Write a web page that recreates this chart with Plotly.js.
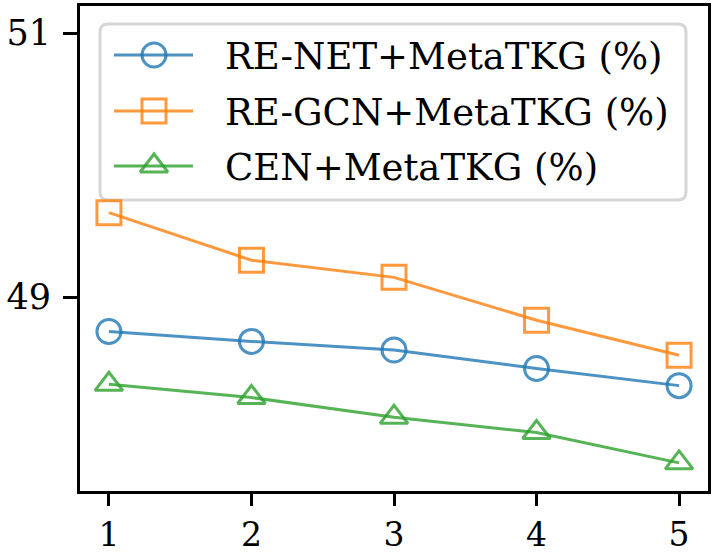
<!DOCTYPE html>
<html><head><meta charset="utf-8">
<script src="https://cdn.plot.ly/plotly-3.0.1.min.js"></script>
<style>html,body{margin:0;padding:0;background:#fff}</style>
</head><body><div id="chart" style="width:714px;height:553px"></div>
<script>
const xs = [1, 2, 3, 4, 5];
const xTickText = ['1', '2', '3', '4', '5'];
const yTickVals = [49, 51];
const yTickText = ['49', '51'];
const reNet = [48.74, 48.665, 48.60, 48.46, 48.33];
const reGcn = [49.64, 49.28, 49.15, 48.825, 48.56];
const cen = [48.34, 48.24, 48.09, 47.975, 47.745];
const names = ['RE-NET+MetaTKG (%)', 'RE-GCN+MetaTKG (%)', 'CEN+MetaTKG (%)'];
const colors = ['rgba(31,119,180,0.8)', 'rgba(255,127,14,0.8)', 'rgba(44,160,44,0.8)'];
const symbols = ['circle-open', 'square-open', 'triangle-up-open'];
const series = [reNet, reGcn, cen];
const msize = [24, 24, 24];
const FONT = 'DejaVu Serif';

const traces = series.map((ys, i) => ({
  x: xs, y: ys, name: names[i], type: 'scatter', mode: 'lines+markers', showlegend: false,
  line: {color: colors[i], width: 3},
  marker: {symbol: symbols[i], size: msize[i], color: colors[i], line: {width: 3, color: colors[i]}}
}));

// Custom legend drawn in pixel space on an overlay axis
const legRows = [55, 111, 166];
const legLineX = [114, 193];
const legMarkX = 154;
const legTextX = 223;
const annotations = [];
series.forEach((ys, i) => {
  traces.push({x: legLineX, y: [legRows[i], legRows[i]], xaxis: 'x2', yaxis: 'y2', mode: 'lines',
    showlegend: false, hoverinfo: 'skip', line: {color: colors[i], width: 3}});
  traces.push({x: [legMarkX], y: [legRows[i]], xaxis: 'x2', yaxis: 'y2', mode: 'markers',
    showlegend: false, hoverinfo: 'skip',
    marker: {symbol: symbols[i], size: msize[i], color: colors[i], line: {width: 3, color: colors[i]}}});
  annotations.push({x: legTextX, y: legRows[i] + 1, xref: 'x2', yref: 'y2', text: names[i],
    showarrow: false, xanchor: 'left', yanchor: 'middle',
    font: {size: 37, family: FONT, color: '#000'}});
});
const bx0 = 100, bx1 = 686, by0 = 24, by1 = 200, r = 8;
const boxPath = `M${bx0+r},${by0} L${bx1-r},${by0} Q${bx1},${by0} ${bx1},${by0+r} L${bx1},${by1-r} Q${bx1},${by1} ${bx1-r},${by1} L${bx0+r},${by1} Q${bx0},${by1} ${bx0},${by1-r} L${bx0},${by0+r} Q${bx0},${by0} ${bx0+r},${by0} Z`;

const layout = {
  width: 714, height: 553,
  margin: {l: 80, r: 6, t: 6, b: 62},
  paper_bgcolor: '#fff', plot_bgcolor: '#fff',
  font: {family: FONT, color: '#000'},
  showlegend: false,
  annotations: annotations,
  shapes: [{type: 'path', path: boxPath, xref: 'x2', yref: 'y2', layer: 'below',
    fillcolor: 'rgba(255,255,255,0.8)', line: {color: '#d6d6d6', width: 3}}],
  xaxis: {range: [0.797, 5.203], tickvals: xs, ticktext: xTickText,
    ticks: 'outside', ticklen: 12, tickwidth: 3, tickcolor: '#000',
    showline: true, linecolor: '#000', linewidth: 3, mirror: true, showgrid: false, zeroline: false,
    tickfont: {size: 33, family: FONT}},
  yaxis: {range: [47.532, 51.205], tickvals: yTickVals, ticktext: yTickText,
    ticks: 'outside', ticklen: 14, tickwidth: 3, tickcolor: '#000',
    showline: true, linecolor: '#000', linewidth: 3, mirror: true, showgrid: false, zeroline: false,
    tickfont: {size: 35, family: FONT}, ticklabelstandoff: 5},
  xaxis2: {overlaying: 'x', range: [80, 708], visible: false, fixedrange: true},
  yaxis2: {overlaying: 'y', range: [491, 6], visible: false, fixedrange: true}
};
Plotly.newPlot('chart', traces, layout, {displayModeBar: false});
</script></body></html>
